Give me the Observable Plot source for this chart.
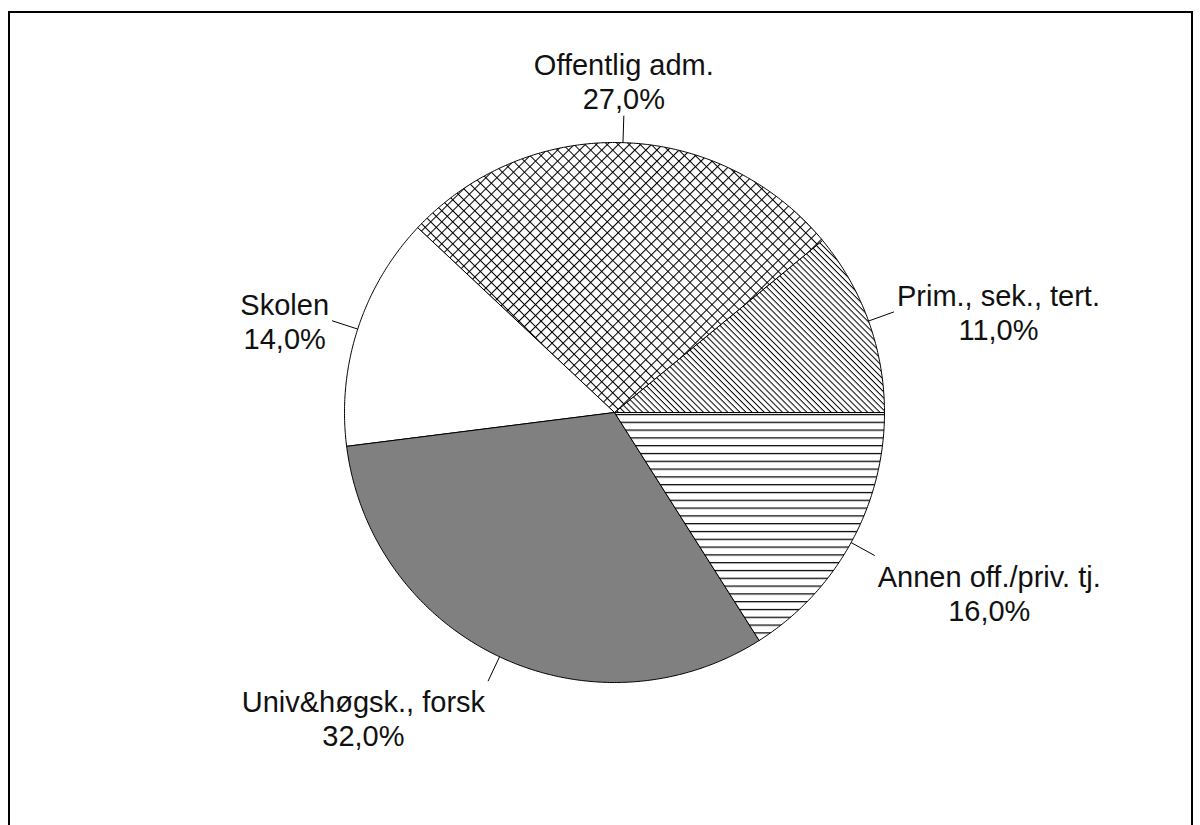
<!DOCTYPE html>
<html><head><meta charset="utf-8">
<script src="https://cdn.jsdelivr.net/npm/d3@7"></script>
<script src="https://cdn.jsdelivr.net/npm/@observablehq/plot@0.6"></script>
<style>
body{margin:0;background:#fff;}
#wrap{position:relative;width:1200px;height:825px;overflow:hidden;}
#frame{position:absolute;left:8px;top:11px;width:1185px;height:900px;border:2px solid #000;border-bottom:none;box-sizing:border-box;pointer-events:none;}
</style></head><body><div id="wrap"></div>
<script>
// Data (counter-clockwise from 3 o'clock)
const categories = ["Prim., sek., tert.", "Offentlig adm.", "Skolen", "Univ&høgsk., forsk", "Annen off./priv. tj."];
const values = [11, 27, 14, 32, 16];
const fills = ["url(#pDiag)", "url(#pCross)", "#ffffff", "#808080", "url(#pHoriz)"];

const R = 270;            // pixels per unit radius
const W = 1200, H = 825;
const FS = 29;
const FONT = FS + "px 'Liberation Sans', Arial, sans-serif";
const fmt = v => v.toFixed(1).replace(".", ",") + "%";

const total = d3.sum(values);
let cum = 0;
const slices = categories.map((c, i) => {
  const a0 = cum / total * 2 * Math.PI;
  cum += values[i];
  const a1 = cum / total * 2 * Math.PI;
  return {cat: c, value: values[i], a0, a1, mid: (a0 + a1) / 2};
});

// polygon points for each slice
const pts = [];
for (const s of slices) {
  const n = Math.max(2, Math.ceil((s.a1 - s.a0) / (Math.PI / 360)));
  pts.push({cat: s.cat, x: 0, y: 0});
  for (let k = 0; k <= n; k++) {
    const a = s.a0 + (s.a1 - s.a0) * k / n;
    pts.push({cat: s.cat, x: Math.cos(a), y: Math.sin(a)});
  }
  pts.push({cat: s.cat, x: 0, y: 0});
}

// leaders
const leaders = slices.map(s => ({
  x1: Math.cos(s.mid), y1: Math.sin(s.mid),
  x2: 1.1 * Math.cos(s.mid), y2: 1.1 * Math.sin(s.mid)
}));

// labels
const ctx = document.createElement("canvas").getContext("2d");
ctx.font = FONT;
const gapH = 3 / R, gapV = 7 / R;
const labels = slices.map(s => {
  const l1 = s.cat, l2 = fmt(s.value);
  const w = Math.max(ctx.measureText(l1).width, ctx.measureText(l2).width) / R;
  const c = Math.cos(s.mid), sn = Math.sin(s.mid);
  const ex = 1.1 * c, ey = 1.1 * sn;
  let x = ex;
  if (Math.abs(c) >= 0.2) x = c > 0 ? ex + gapH + w / 2 : ex - gapH - w / 2;
  let anchor = "middle", y = ey;
  if (sn > 0.7) { anchor = "bottom"; y = ey + gapV; }
  else if (sn < -0.4) { anchor = "top"; y = ey - gapV; }
  return {text: l1 + "\n" + l2, x, y, anchor};
});

const textMark = a => Plot.text(labels.filter(d => d.anchor === a), {
  x: "x", y: "y", text: "text", textAnchor: "middle", lineAnchor: a,
  lineHeight: 1.17, fontSize: FS, fill: "#111"
});

const x0 = 614 / R, y0 = 412 / R;
const chart = Plot.plot({
  width: W, height: H,
  margin: 0,
  x: {domain: [-x0, (W - 614) / R], axis: null},
  y: {domain: [-(H - 412) / R, y0], axis: null},
  color: {type: "ordinal", domain: categories, range: fills},
  style: {fontFamily: "'Liberation Sans', Arial, sans-serif", background: "transparent"},
  marks: [
    Plot.line(pts, {x: "x", y: "y", z: "cat", fill: "cat", stroke: "#000", strokeWidth: 1, curve: "linear"}),
    Plot.link(leaders, {x1: "x1", y1: "y1", x2: "x2", y2: "y2", stroke: "#000", strokeWidth: 1}),
    textMark("top"), textMark("middle"), textMark("bottom")
  ]
});

// patterns
const ns = "http://www.w3.org/2000/svg";
const defs = document.createElementNS(ns, "defs");
defs.innerHTML = `
<pattern id="pDiag" patternUnits="userSpaceOnUse" width="4.3" height="4.3" patternTransform="rotate(45)">
  <rect width="4.3" height="4.3" fill="#fff"/><path d="M0,0.5H4.3" stroke="#000" stroke-width="1"/>
</pattern>
<pattern id="pCross" patternUnits="userSpaceOnUse" width="7.8" height="7.8" patternTransform="rotate(45)">
  <rect width="7.8" height="7.8" fill="#fff"/><path d="M0,0.5H7.8M0.5,0V7.8" stroke="#000" stroke-width="1.1"/>
</pattern>
<pattern id="pHoriz" patternUnits="userSpaceOnUse" width="8" height="7.8">
  <rect width="8" height="7.8" fill="#fff"/><path d="M0,0.6H8" stroke="#000" stroke-width="1.3"/>
</pattern>`;
chart.insertBefore(defs, chart.firstChild);

const wrap = document.getElementById("wrap");
wrap.appendChild(chart);
const frame = document.createElement("div");
frame.id = "frame";
wrap.appendChild(frame);
</script>
</body></html>
